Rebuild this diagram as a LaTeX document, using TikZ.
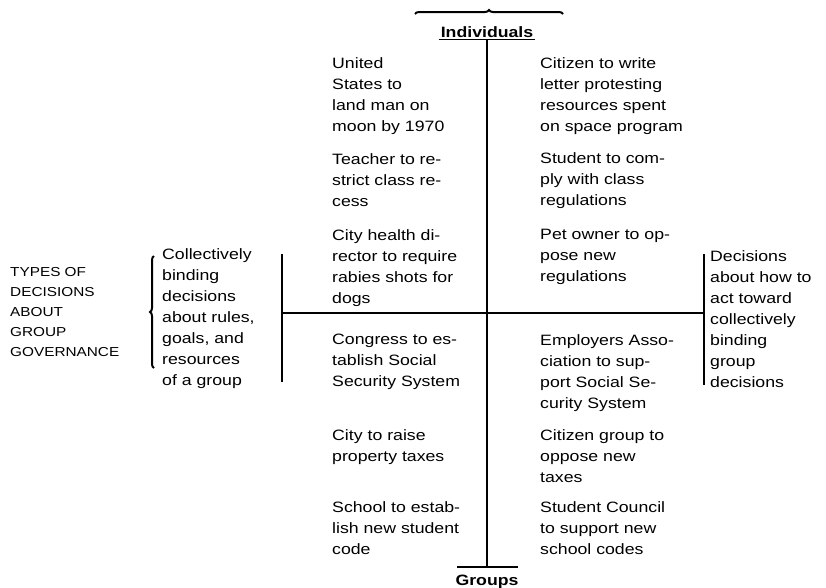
\documentclass[tikz,border=0pt]{standalone}
\usepackage{fontspec}
\setmainfont{Liberation Sans}[FakeStretch=1.18]
\usetikzlibrary{positioning}
\usetikzlibrary{decorations.pathreplacing}

\begin{document}
\begin{tikzpicture}[x=1pt,y=-1pt]

          \tikzstyle{caseNode} = [anchor=north west, align=left, inner sep=0pt, font=\fontsize{15}{21}\selectfont];
          \tikzstyle{labelNode} = [anchor=north west, align=left, inner sep=0pt, font=\fontsize{13}{20}\selectfont];
          \tikzstyle{titleNode} = [inner sep=2pt, font=\fontsize{15}{18}\selectfont\bfseries];

          \tikzstyle{axisEdge} = [line width=1.1pt];
          \tikzstyle{braceEdge} = [line width=2pt, decorate, decoration={brace, amplitude=4pt}];

          \useasboundingbox (0,0) rectangle (826,587);

          \node[titleNode] (ind) at (487,32) {Individuals};
          \node[titleNode, anchor=base] (grp) at (487,585) {Groups};

          \coordinate (braceL) at (415,14);
          \coordinate (braceR) at (563,14);
          \coordinate (axisEnd) at (487,567);
          \coordinate (barL) at (457,567);
          \coordinate (barR) at (518,567);
          \coordinate (hL) at (282,313);
          \coordinate (hR) at (704,313);
          \coordinate (lTop) at (282,254);
          \coordinate (lBot) at (282,382);
          \coordinate (rTop) at (704,254);
          \coordinate (rBot) at (704,385);
          \coordinate (sideTop) at (154,256);
          \coordinate (sideBot) at (154,368);

          % individual decisions
          \node[caseNode] (usMoon) at (332,57) {United\\States to\\land man on\\moon by 1970};
          \node[caseNode] (teacher) at (332,153) {Teacher to re-\\strict class re-\\cess};
          \node[caseNode] (health) at (332,229) {City health di-\\rector to require\\rabies shots for\\dogs};
          \node[caseNode] (letter) at (540,57) {Citizen to write\\letter protesting\\resources spent\\on space program};
          \node[caseNode] (comply) at (540,152) {Student to com-\\ply with class\\regulations};
          \node[caseNode] (petOwner) at (540,229) {Pet owner to op-\\pose new\\regulations};

          % group decisions
          \node[caseNode] (congress) at (332,334) {Congress to es-\\tablish Social\\Security System};
          \node[caseNode] (taxes) at (332,429) {City to raise\\property taxes};
          \node[caseNode] (school) at (332,501) {School to estab-\\lish new student\\code};
          \node[caseNode] (employers) at (540,334) {Employers Asso-\\ciation to sup-\\port Social Se-\\curity System};
          \node[caseNode] (citizens) at (540,429) {Citizen group to\\oppose new\\taxes};
          \node[caseNode] (council) at (540,501) {Student Council\\to support new\\school codes};

          % side labels
          \node[caseNode] (binding) at (162,248) {Collectively\\binding\\decisions\\about rules,\\goals, and\\resources\\of a group};
          \node[caseNode] (act) at (710,250) {Decisions\\about how to\\act toward\\collectively\\binding\\group\\decisions};
          \node[labelNode] (types) at (10,267) {TYPES OF\\DECISIONS\\ABOUT\\GROUP\\GOVERNANCE};

          \draw[braceEdge] (braceL) -- (braceR);
          \draw[braceEdge] (sideBot) -- (sideTop);
          \draw[axisEdge] (ind.south west) -- (ind.south east);
          \draw[axisEdge] (ind.south) -- (axisEnd);
          \draw[axisEdge] (barL) -- (barR);
          \draw[axisEdge] (hL) -- (hR);
          \draw[axisEdge] (lTop) -- (lBot);
          \draw[axisEdge] (rTop) -- (rBot);
        \end{tikzpicture}
\end{document}
